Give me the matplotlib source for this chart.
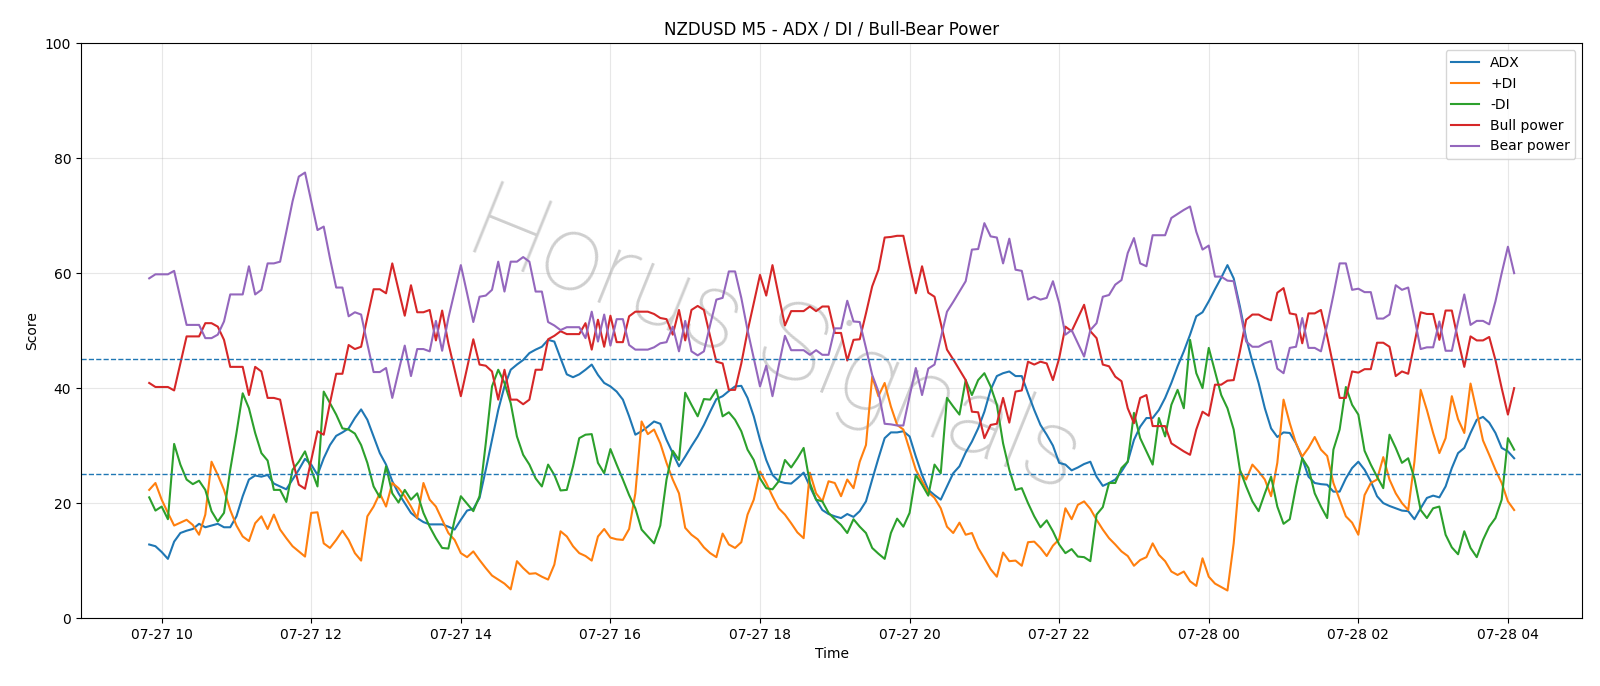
import numpy as np
import pandas as pd
import matplotlib
matplotlib.use("Agg")
import matplotlib.pyplot as plt
import matplotlib.dates as mdates

# 5-minute bars, 07-27 09:50 -> 07-28 04:05
times = pd.date_range("2025-07-27 09:50", periods=220, freq="5min")

adx = [
    12.8, 12.5, 11.5, 10.3, 13.3, 14.8, 15.2, 15.5, 16.4, 15.8, 16.1, 16.4, 15.8, 15.8, 17.7, 21.2, 24.1, 24.8,
    24.6, 24.9, 23.4, 22.9, 22.4, 24.1, 25.8, 27.7, 26.7, 24.9, 27.8, 30.1, 31.7, 32.3, 33.0, 34.8, 36.3, 34.5,
    31.6, 28.7, 26.7, 23.8, 21.7, 20.0, 18.3, 17.4, 16.7, 16.3, 16.3, 16.3, 15.9, 15.4, 17.1, 18.7, 19.0, 20.9,
    25.8, 31.0, 36.2, 40.3, 43.2, 44.1, 44.9, 46.1, 46.7, 47.2, 48.4, 48.1, 45.2, 42.4, 41.9, 42.4, 43.2, 44.1, 42.3,
    40.9, 40.3, 39.4, 38.0, 35.1, 31.9, 32.5, 33.3, 34.2, 33.8, 31.0, 28.7, 26.4, 28.1, 29.9, 31.6, 33.6, 35.9,
    38.1, 38.6, 39.5, 40.3, 40.4, 38.3, 35.1, 31.0, 27.5, 24.9, 23.8, 23.5, 23.4, 24.3, 25.3, 22.9, 20.6, 18.8, 18.1,
    17.7, 17.4, 18.1, 17.6, 18.6, 20.3, 24.1, 27.8, 31.3, 32.3, 32.3, 32.5, 31.6, 28.1, 24.9, 22.3, 21.4, 20.6,
    22.9, 25.2, 26.4, 28.8, 30.7, 33.0, 35.9, 39.7, 42.1, 42.6, 42.9, 42.1, 42.1, 39.1, 36.2, 33.6, 31.9, 30.0, 27.0,
    26.7, 25.7, 26.2, 26.8, 27.2, 24.6, 23.0, 23.5, 24.1, 25.5, 27.2, 31.0, 33.3, 34.8, 34.8, 36.2, 38.3, 40.9,
    43.8, 46.4, 49.3, 52.5, 53.2, 55.1, 57.2, 59.2, 61.4, 59.1, 54.2, 48.7, 44.6, 40.9, 36.5, 33.0, 31.5, 32.3, 32.2,
    30.4, 27.8, 24.6, 23.5, 23.3, 23.2, 22.0, 22.0, 24.3, 26.1, 27.2, 25.8, 23.8, 21.2, 20.0, 19.5, 19.1, 18.7,
    18.6, 17.2, 19.1, 20.9, 21.3, 21.0, 22.9, 26.1, 28.7, 29.6, 32.2, 34.5, 35.0, 34.0, 32.2, 29.6, 29.0, 27.8,
]

plus_di = [
    22.3, 23.5, 20.6, 18.3, 16.1, 16.6, 17.1, 16.2, 14.5, 18.0, 27.2, 24.9, 22.3, 18.8, 16.1, 14.2, 13.4, 16.5,
    17.7, 15.5, 18.0, 15.4, 13.9, 12.5, 11.6, 10.7, 18.3, 18.4, 13.0, 12.2, 13.6, 15.2, 13.6, 11.3, 10.0, 17.7,
    19.4, 21.7, 19.4, 23.5, 22.6, 21.2, 19.4, 17.4, 23.5, 20.6, 19.4, 17.1, 14.8, 13.6, 11.3, 10.6, 11.6, 10.1,
    8.7, 7.4, 6.7, 6.0, 5.0, 9.9, 8.7, 7.7, 7.8, 7.2, 6.7, 9.3, 15.1, 14.2, 12.5, 11.3, 10.8, 10.0, 14.2,
    15.5, 14.0, 13.7, 13.6, 15.5, 21.7, 34.2, 32.0, 32.8, 30.4, 27.0, 24.1, 21.7, 15.7, 14.5, 13.7, 12.3, 11.3,
    10.6, 14.7, 12.8, 12.2, 13.2, 18.0, 20.6, 25.5, 23.5, 21.2, 19.1, 18.0, 16.5, 14.9, 13.9, 25.3, 21.7, 20.3, 23.8,
    23.5, 21.2, 24.1, 22.6, 27.2, 30.1, 42.0, 38.6, 40.9, 36.8, 33.6, 32.8, 29.3, 25.8, 23.8, 21.9, 20.9, 19.1,
    15.9, 14.8, 16.6, 14.5, 14.8, 12.2, 10.4, 8.5, 7.2, 11.4, 9.9, 10.0, 9.1, 13.2, 13.3, 12.2, 10.8, 12.6, 13.7,
    19.1, 17.2, 19.7, 20.3, 19.0, 17.1, 15.4, 13.9, 12.8, 11.6, 10.8, 9.1, 10.1, 10.6, 13.0, 11.0, 9.9, 8.1,
    7.5, 8.1, 6.4, 5.6, 10.4, 7.2, 6.0, 5.4, 4.8, 13.0, 25.5, 24.1, 26.7, 25.5, 24.1, 21.2, 27.0, 38.0, 33.9,
    30.4, 28.1, 29.6, 31.5, 29.3, 28.2, 23.5, 20.6, 17.7, 16.6, 14.5, 21.4, 23.5, 24.1, 28.0, 24.1, 21.7, 20.0,
    18.8, 27.2, 39.7, 36.2, 32.2, 28.7, 31.3, 38.6, 34.6, 32.2, 40.8, 35.9, 30.9, 28.4, 25.8, 23.5, 20.3, 18.8,
]

minus_di = [
    21.0, 18.7, 19.4, 17.2, 30.3, 26.7, 24.1, 23.3, 23.9, 22.3, 18.6, 16.8, 18.3, 25.8, 32.2, 39.1, 36.5, 32.2,
    28.7, 27.4, 22.3, 22.3, 20.2, 25.8, 27.2, 29.0, 25.8, 22.9, 39.4, 37.4, 35.4, 33.0, 32.8, 32.1, 30.1, 27.0,
    22.9, 21.0, 26.4, 21.7, 20.1, 22.3, 20.6, 21.7, 18.3, 15.9, 13.9, 12.2, 12.1, 17.1, 21.2, 19.9, 18.6, 21.2,
    30.4, 40.3, 43.2, 40.9, 37.4, 31.6, 28.4, 26.7, 24.3, 22.9, 26.7, 24.9, 22.2, 22.3, 26.4, 31.3, 31.9, 32.0, 27.0,
    25.2, 29.4, 26.7, 24.1, 21.4, 19.1, 15.4, 14.2, 13.0, 16.1, 24.1, 29.1, 27.5, 39.2, 37.1, 35.1, 38.1, 38.0,
    39.7, 35.1, 35.8, 34.5, 32.5, 29.3, 27.5, 24.3, 22.6, 22.4, 23.8, 27.5, 26.2, 27.8, 29.6, 23.5, 20.6, 20.3, 18.3,
    17.2, 16.2, 14.8, 17.2, 15.9, 14.8, 12.2, 11.2, 10.3, 14.8, 17.3, 15.9, 18.3, 24.9, 23.2, 21.3, 26.7, 25.2,
    38.3, 36.8, 35.4, 41.4, 38.8, 41.4, 42.6, 40.3, 37.1, 30.4, 25.8, 22.3, 22.6, 20.0, 17.7, 15.8, 17.0, 15.1, 12.8,
    11.3, 12.0, 10.7, 10.6, 9.9, 18.0, 19.3, 23.5, 23.5, 26.1, 27.2, 35.7, 31.3, 29.0, 26.7, 34.8, 31.6, 37.1,
    39.7, 36.5, 48.4, 42.6, 40.0, 47.0, 42.9, 38.8, 36.5, 32.8, 25.8, 22.9, 20.3, 18.6, 21.7, 24.6, 19.4, 16.4, 17.2,
    22.9, 27.8, 26.1, 21.7, 19.4, 17.4, 29.3, 32.8, 40.2, 37.1, 35.4, 29.1, 26.7, 24.6, 22.6, 31.9, 29.6, 27.0,
    27.8, 24.3, 18.8, 17.4, 19.1, 19.4, 14.5, 12.3, 11.1, 15.1, 12.2, 10.6, 13.6, 15.9, 17.4, 20.6, 31.3, 29.3,
]

bull_power = [
    40.9, 40.2, 40.2, 40.2, 39.6, 44.3, 49.0, 49.0, 49.0, 51.3, 51.3, 50.7, 48.4, 43.7, 43.7, 43.7, 38.8, 43.7,
    42.9, 38.3, 38.3, 38.0, 32.8, 27.5, 23.2, 22.5, 27.5, 32.5, 31.9, 37.4, 42.5, 42.5, 47.5, 46.8, 47.2, 52.3,
    57.2, 57.2, 56.5, 61.7, 57.1, 52.6, 57.9, 53.2, 53.2, 53.6, 48.3, 53.5, 47.8, 43.2, 38.6, 43.5, 48.5, 44.1,
    43.9, 42.9, 38.0, 43.2, 38.0, 38.0, 37.2, 38.0, 43.2, 43.2, 48.5, 49.1, 49.9, 49.4, 49.4, 49.4, 51.3, 46.7, 51.9,
    47.2, 52.6, 48.0, 48.0, 52.5, 53.3, 53.3, 53.3, 52.9, 52.2, 52.0, 49.3, 53.6, 48.3, 53.6, 54.3, 53.6, 49.0,
    44.6, 44.3, 39.7, 39.7, 44.3, 49.9, 54.8, 59.7, 56.1, 61.4, 56.1, 50.9, 53.4, 53.4, 53.4, 54.2, 53.4, 54.2, 54.2,
    49.6, 49.6, 44.8, 48.4, 48.5, 53.0, 57.7, 60.6, 66.2, 66.3, 66.5, 66.5, 61.4, 56.5, 61.2, 56.6, 55.9, 51.3,
    46.7, 45.0, 43.2, 41.4, 35.9, 35.8, 31.3, 33.6, 33.8, 38.3, 34.0, 39.4, 39.6, 44.6, 44.1, 44.6, 44.3, 41.4, 45.2,
    50.7, 49.9, 52.2, 54.5, 49.9, 48.7, 44.1, 43.8, 42.0, 41.2, 36.5, 33.9, 38.3, 38.8, 33.4, 33.4, 33.4, 30.4,
    29.7, 29.0, 28.4, 32.8, 35.9, 35.2, 40.6, 40.6, 41.3, 41.4, 46.4, 51.9, 52.8, 52.8, 52.2, 51.8, 56.6, 57.4, 53.0,
    52.8, 47.8, 53.0, 53.0, 53.6, 49.0, 43.8, 38.3, 38.3, 42.9, 42.7, 43.3, 43.3, 47.9, 47.9, 47.2, 42.1, 42.9,
    42.5, 47.8, 53.2, 52.9, 52.9, 48.4, 53.5, 53.5, 48.4, 43.7, 49.0, 48.3, 48.3, 48.9, 44.9, 40.0, 35.4, 40.0,
]

bear_power = [
    59.1, 59.8, 59.8, 59.8, 60.4, 55.7, 51.0, 51.0, 51.0, 48.7, 48.7, 49.3, 51.6, 56.3, 56.3, 56.3, 61.2, 56.3,
    57.1, 61.7, 61.7, 62.0, 67.2, 72.5, 76.8, 77.5, 72.5, 67.5, 68.1, 62.6, 57.5, 57.5, 52.5, 53.2, 52.8, 47.7,
    42.8, 42.8, 43.5, 38.3, 42.9, 47.4, 42.1, 46.8, 46.8, 46.4, 51.7, 46.5, 52.2, 56.8, 61.4, 56.5, 51.5, 55.9,
    56.1, 57.1, 62.0, 56.8, 62.0, 62.0, 62.8, 62.0, 56.8, 56.8, 51.5, 50.9, 50.1, 50.6, 50.6, 50.6, 48.7, 53.3, 48.1,
    52.8, 47.4, 52.0, 52.0, 47.5, 46.7, 46.7, 46.7, 47.1, 47.8, 48.0, 50.7, 46.4, 51.7, 46.4, 45.7, 46.4, 51.0,
    55.4, 55.7, 60.3, 60.3, 55.7, 50.1, 45.2, 40.3, 43.9, 38.6, 43.9, 49.1, 46.6, 46.6, 46.6, 45.8, 46.6, 45.8, 45.8,
    50.4, 50.4, 55.2, 51.6, 51.5, 47.0, 42.3, 39.4, 33.8, 33.7, 33.5, 33.5, 38.6, 43.5, 38.8, 43.4, 44.1, 48.7,
    53.3, 55.0, 56.8, 58.6, 64.1, 64.2, 68.7, 66.4, 66.2, 61.7, 66.0, 60.6, 60.4, 55.4, 55.9, 55.4, 55.7, 58.6, 54.8,
    49.3, 50.1, 47.8, 45.5, 50.1, 51.3, 55.9, 56.2, 58.0, 58.8, 63.5, 66.1, 61.7, 61.2, 66.6, 66.6, 66.6, 69.6,
    70.3, 71.0, 71.6, 67.2, 64.1, 64.8, 59.4, 59.4, 58.7, 58.6, 53.6, 48.1, 47.2, 47.2, 47.8, 48.2, 43.4, 42.6, 47.0,
    47.2, 52.2, 47.0, 47.0, 46.4, 51.0, 56.2, 61.7, 61.7, 57.1, 57.3, 56.7, 56.7, 52.1, 52.1, 52.8, 57.9, 57.1,
    57.5, 52.2, 46.8, 47.1, 47.1, 51.6, 46.5, 46.5, 51.6, 56.3, 51.0, 51.7, 51.7, 51.1, 55.1, 60.0, 64.6, 60.0,
]

upper_level = 45
lower_level = 25

fig, ax = plt.subplots(figsize=(16, 6.86), dpi=100)
fig.subplots_adjust(left=0.0506, right=0.989, bottom=0.099, top=0.937)

ax.plot(times, adx, label="ADX")
ax.plot(times, plus_di, label="+DI")
ax.plot(times, minus_di, label="-DI")
ax.plot(times, bull_power, label="Bull power")
ax.plot(times, bear_power, label="Bear power")

ax.axhline(upper_level, linestyle="--", linewidth=1)
ax.axhline(lower_level, linestyle="--", linewidth=1)

ax.set_ylim(0, 100)
ax.grid(True, alpha=0.3)
ax.xaxis.set_major_locator(mdates.HourLocator(byhour=range(0, 24, 2)))
ax.xaxis.set_major_formatter(mdates.DateFormatter("%m-%d %H"))

ax.set_title("NZDUSD M5 - ADX / DI / Bull-Bear Power")
ax.set_xlabel("Time")
ax.set_ylabel("Score")
ax.legend(loc="upper right")

# watermark
ax.text(0.462, 0.48, "Horus Signals", transform=ax.transAxes,
        ha="center", va="center", rotation=-22, fontsize=78,
        family=["Roboto", "DejaVu Sans"], fontweight="ultralight",
        color="gray", alpha=0.38, zorder=0)

fig.savefig("out.png")
